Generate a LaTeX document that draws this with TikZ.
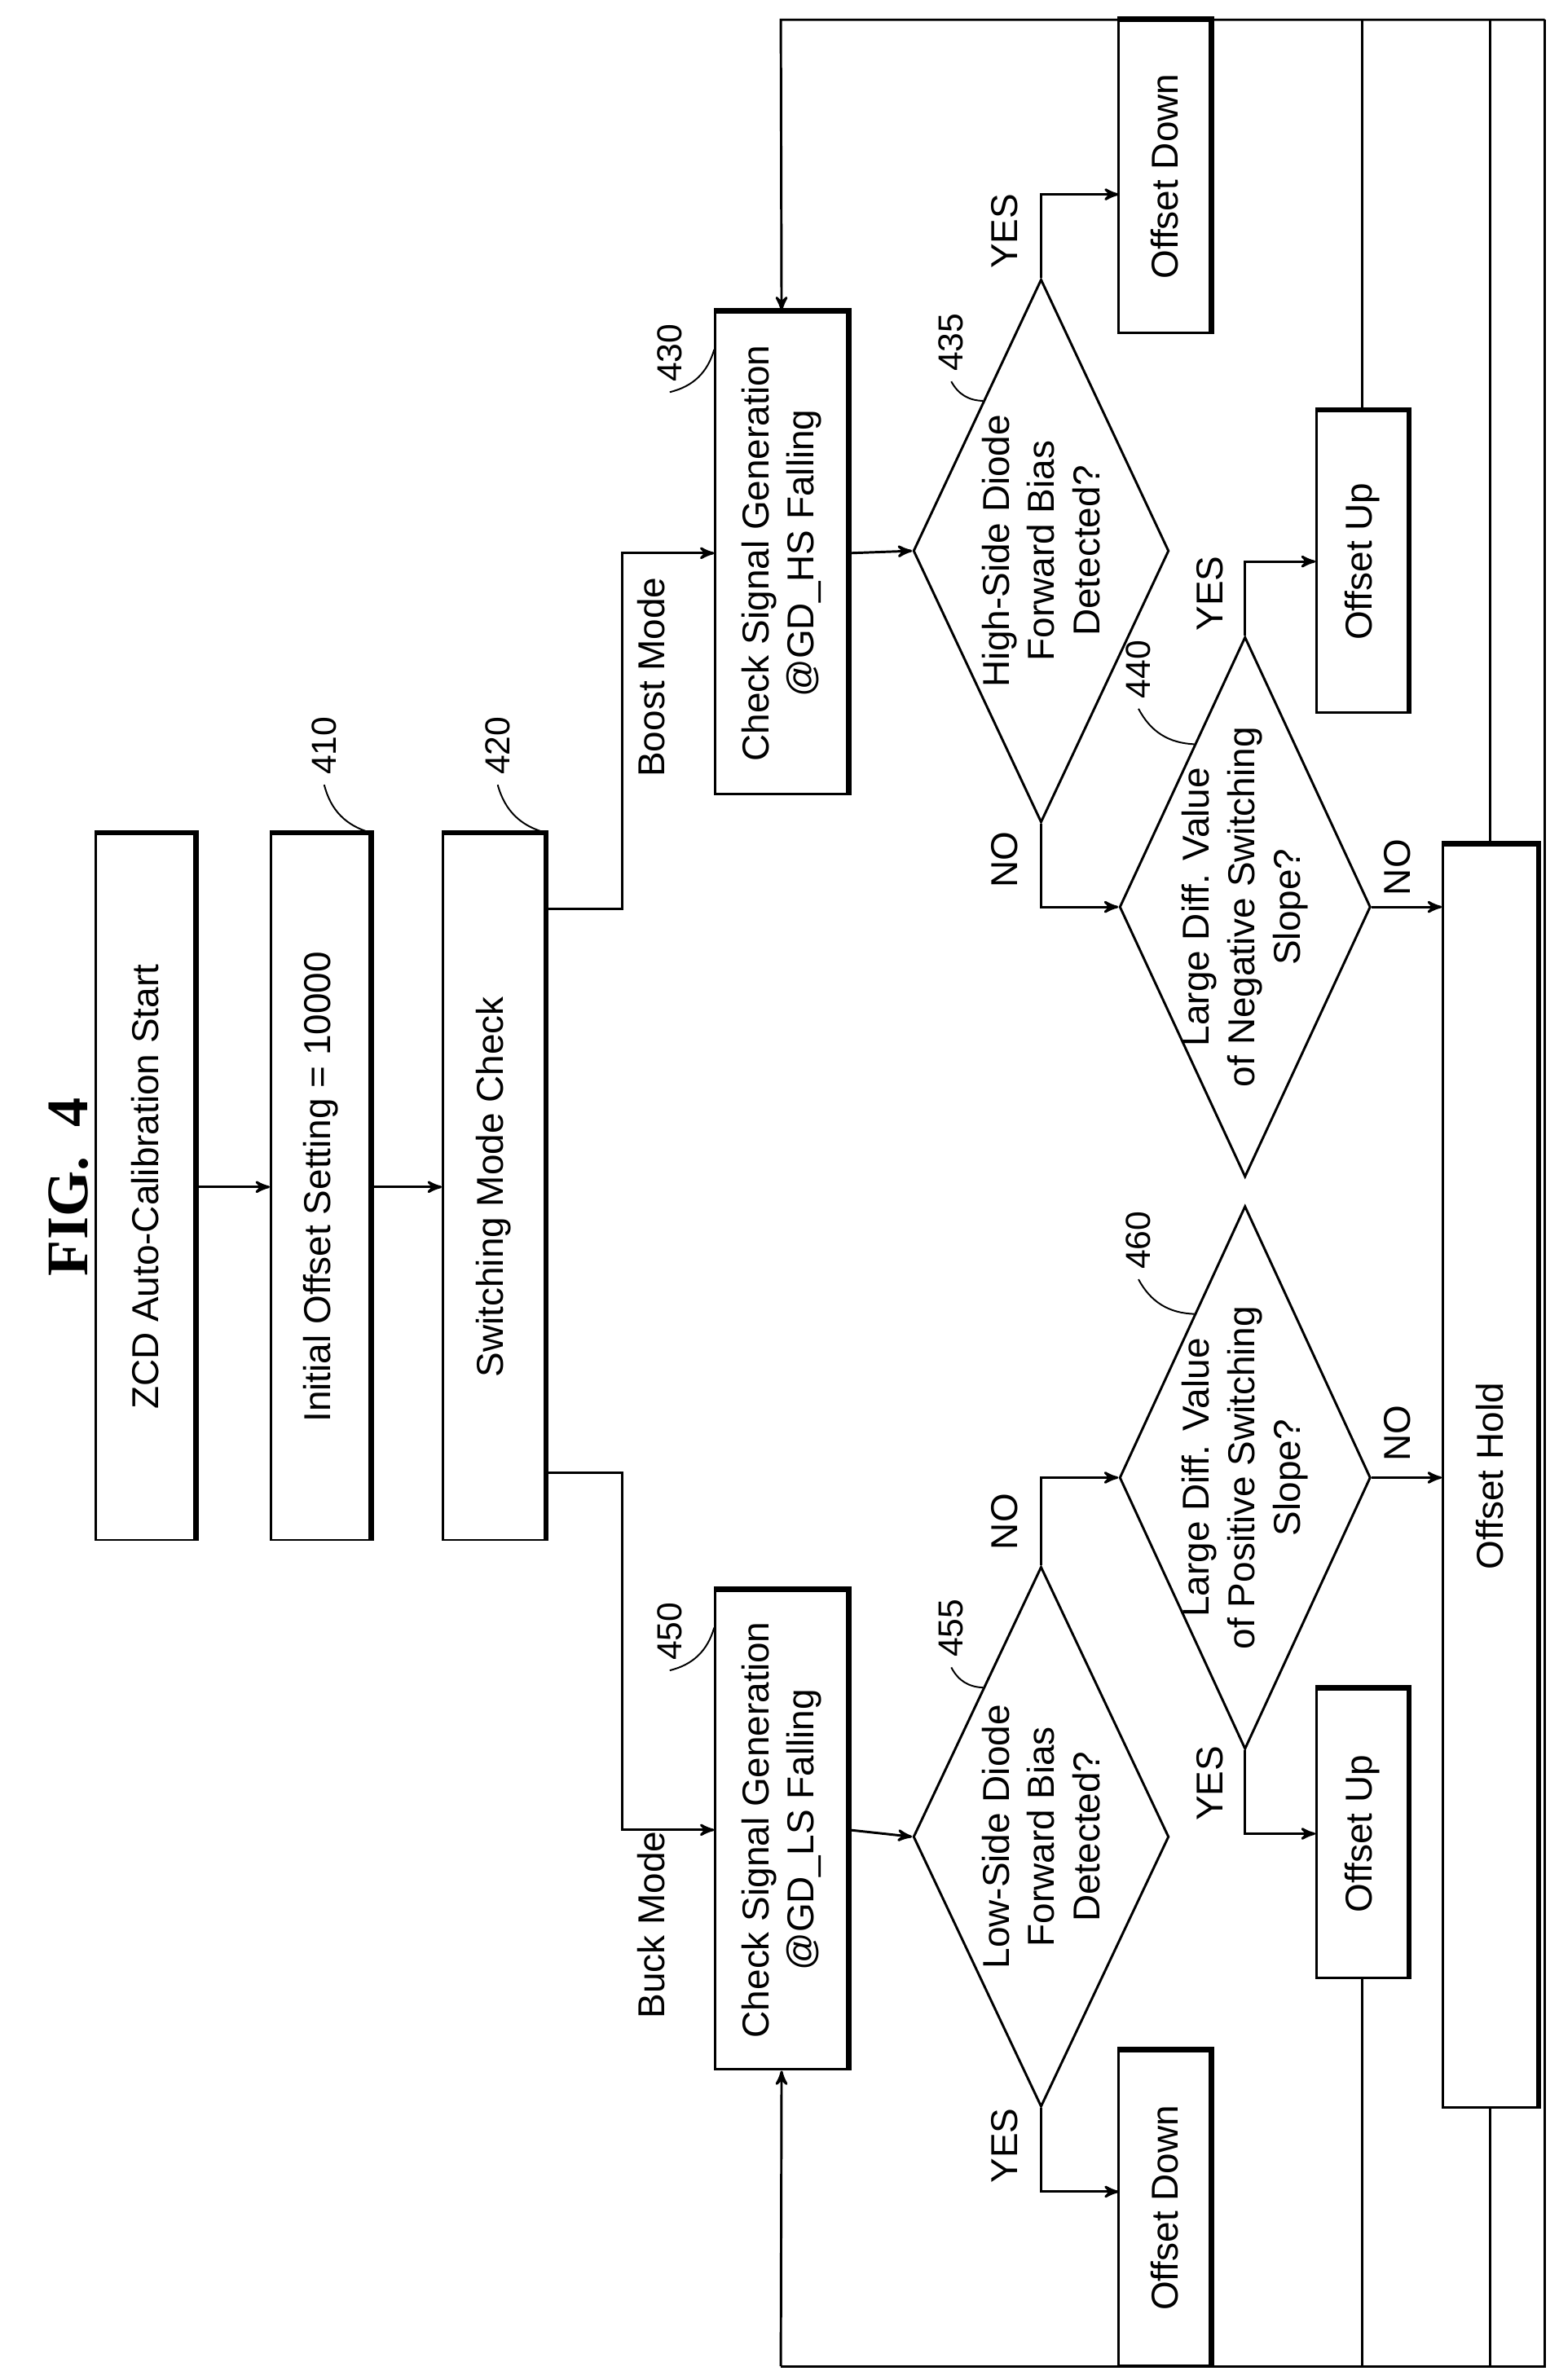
\documentclass[tikz,border=0pt]{standalone}
\usepackage{fontspec}
\setmainfont{Liberation Sans}
\newfontfamily\figfont{Liberation Serif}
\usetikzlibrary{arrows}
\usetikzlibrary{shapes.geometric}
\usetikzlibrary{calc}

\begin{document}
\begin{tikzpicture}[->,>=stealth',x=0.02cm,y=-0.02cm,line width=0.9pt,
  font=\fontsize{14}{17}\selectfont]
\tikzset{box/.style 2 args={draw,rotate=90,minimum width=#1,minimum height=#2,inner sep=0,align=center},
  dia/.style 2 args={draw,diamond,rotate=90,minimum width=#1,minimum height=#2,inner sep=0},
  lbl/.style={rotate=90,align=center},
  num/.style={rotate=90,font=\fontsize{13}{15}\selectfont}}
\useasboundingbox (0,0) rectangle (1024,1564);

% title
\node[lbl,font=\figfont\bfseries\fontsize{22}{26}\selectfont] (title) at (45,780) {FIG.\ \ 4};

% main column
\node[box={9.28cm}{1.3cm}] (zcd) at (95.5,780) {ZCD Auto-Calibration Start};
\node[box={9.28cm}{1.3cm}] (b410) at (210.5,780) {Initial Offset Setting = 10000};
\node[box={9.28cm}{1.34cm}] (b420) at (324.5,780) {Switching Mode Check};
\node[box={6.34cm}{1.74cm}] (b430) at (513.5,363.5) {Check Signal Generation\\@GD\_HS Falling};
\node[box={6.3cm}{1.74cm}] (b450) at (513.5,1202.5) {Check Signal Generation\\@GD\_LS Falling};

% decisions
\node[dia={7.14cm}{3.36cm}] (d435) at (684,362) {};
\node[lbl] at (d435) {High-Side Diode\\Forward Bias\\Detected?};
\node[dia={7.1cm}{3.3cm}] (d440) at (818,596) {};
\node[lbl] at (d440) {Large Diff. Value\\of Negative Switching\\Slope?};
\node[dia={7.1cm}{3.36cm}] (d455) at (684,1207) {};
\node[lbl] at (d455) {Low-Side Diode\\Forward Bias\\Detected?};
\node[dia={7.14cm}{3.3cm}] (d460) at (818,971) {};
\node[lbl] at (d460) {Large Diff. Value\\of Positive Switching\\Slope?};

% results
\node[box={4.1cm}{1.2cm}] (od1) at (765,116) {Offset Down};
\node[box={3.96cm}{1.2cm}] (ou1) at (895,369) {Offset Up};
\node[box={16.6cm}{1.24cm}] (hold) at (979,970) {Offset Hold};
\node[box={3.8cm}{1.2cm}] (ou2) at (895,1205) {Offset Up};
\node[box={4.14cm}{1.2cm}] (od2) at (765,1451) {Offset Down};

% thick edges
\foreach \b in {zcd,b410,b420,b430,b450,od1,ou1,hold,ou2,od2}
  \draw[-,line width=2pt] (\b.north east) -- (\b.south east) -- (\b.south west);

% reference numbers
\node[num] (n410) at (213,490) {410};
\node[num] (n420) at (327,490) {420};
\node[num] (n430) at (440,232) {430};
\node[num] (n450) at (440,1072) {450};
\node[num] (n435) at (625,225) {435};
\node[num] (n440) at (748,440) {440};
\node[num] (n455) at (625,1070) {455};
\node[num] (n460) at (748,815) {460};
\draw[-,line width=0.6pt] (n410.west) to[bend right=30] (b410.south east);
\draw[-,line width=0.6pt] (n420.west) to[bend right=30] (b420.south east);
\draw[-,line width=0.6pt] (n430.west) to[bend right=30] ($(b430.north east)!0.08!(b430.north west)$);
\draw[-,line width=0.6pt] (n450.west) to[bend right=30] ($(b450.north east)!0.08!(b450.north west)$);
\draw[-,line width=0.6pt] (n435.west) to[bend right=30] ($(d435.north)!0.55!(d435.east)$);
\draw[-,line width=0.6pt] (n440.west) to[bend right=30] ($(d440.north)!0.6!(d440.east)$);
\draw[-,line width=0.6pt] (n455.west) to[bend right=30] ($(d455.north)!0.55!(d455.east)$);
\draw[-,line width=0.6pt] (n460.west) to[bend right=30] ($(d460.north)!0.6!(d460.east)$);

% flow
\draw (zcd.south) -- (b410.north);
\draw (b410.south) -- (b420.north);
\draw ([yshift=-1cm]b420.south east) -- ++(1cm,0) |- (b430.north);
\draw ([yshift=0.9cm]b420.south west) -- ++(1cm,0) |- (b450.north);
\node[lbl] (boost) at (428,445) {Boost Mode};
\node[lbl] (buck) at (428,1265) {Buck Mode};
\draw (b430.south) -- (d435.north);
\draw (b450.south) -- (d455.north);

\draw (d435.east) -- ++(0,1.1cm) -- ++(1.02cm,0);
\draw (d435.west) |- (d440.north);
\draw (d440.east) |- (ou1.north);
\draw (d440.south) -- (d440.south -| hold.north);
\draw (d455.west) -- ++(0,-1.1cm) -- ++(1.02cm,0);
\draw (d455.east) |- (d460.north);
\draw (d460.west) |- (ou2.north);
\draw (d460.south) -- (d460.south -| hold.north);

\node[lbl] at (660,152) {YES};
\node[lbl] at (660,565) {NO};
\node[lbl] at (795,390) {YES};
\node[lbl] at (918,570) {NO};
\node[lbl] at (660,1410) {YES};
\node[lbl] at (660,1000) {NO};
\node[lbl] at (795,1172) {YES};
\node[lbl] at (918,942) {NO};

% feedback frame
\coordinate (ftl) at (513,13);
\coordinate (ftr) at (1015,13);
\coordinate (fbr) at (1015,1555);
\coordinate (fbl) at (513,1555);
\draw (ftr) -- (ftl) -- (b430.east);
\draw[-] (ftr) -- (fbr) -- (fbl);
\draw (fbl) -- (b450.west);
\draw[-] (od1.east) -- (od1.east |- ftl);
\draw[-] (ou1.east) -- (ou1.east |- ftl);
\draw[-] (hold.east) -- (hold.east |- ftl);
\draw[-] (od2.west) -- (od2.west |- fbl);
\draw[-] (ou2.west) -- (ou2.west |- fbl);
\draw[-] (hold.west) -- (hold.west |- fbl);
\end{tikzpicture}
\end{document}
